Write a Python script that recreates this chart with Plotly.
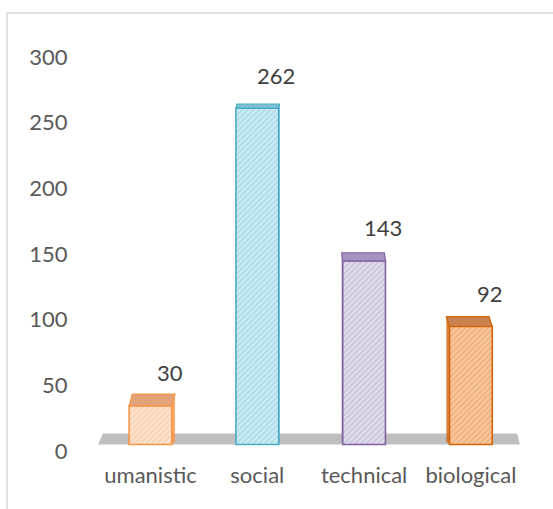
import plotly.graph_objects as go

categories = ["umanistic", "social", "technical", "biological"]
values = [30, 262, 143, 92]
tick_values = [0, 50, 100, 150, 200, 250, 300]
tick_labels = ["0", "50", "100", "150", "200", "250", "300"]

line_colors = ["#F79646", "#4BACC6", "#8064A2", "#D2640C"]
bg_colors = ["#FDE4D0", "#CDEBF3", "#E3DCEC", "#F9C9A0"]
fg_colors = ["#F8B98A", "#88CADC", "#B5A4CA", "#E4904E"]
top_colors = ["#E3A27A", "#7FC0D3", "#A592BE", "#C98150"]

W, H = 553, 509
ML, MR, MT, MB = 80, 13, 40, 49
PX_L, PX_R = ML, W - MR
PY_T, PY_B = MT, H - MB

# x geometry (pixels)
X0_PX, DX_PX = 150.5, 106.8
x_range = [(PX_L - X0_PX) / DX_PX, (PX_R - X0_PX) / DX_PX]
# bar axis: 0 at 444.5 px, 1.284 px per unit
BAR_ZERO, BAR_SCALE = 444.5, 1.284
y2_range = [-(PY_B - BAR_ZERO) / BAR_SCALE, (BAR_ZERO - PY_T) / BAR_SCALE]
# label axis: 0 at 451 px, 1.313 px per unit
LAB_ZERO, LAB_SCALE = 451, 1.313
y_range = [-(PY_B - LAB_ZERO) / LAB_SCALE, (LAB_ZERO - PY_T) / LAB_SCALE]

BAR_W = 0.40
xs = list(range(len(categories)))

fig = go.Figure()

fig.add_trace(go.Scatter(x=[0], y=[0], mode="markers", marker=dict(opacity=0),
                         hoverinfo="skip", showlegend=False, yaxis="y"))

for i, v in enumerate(values):
    fig.add_trace(go.Bar(
        x=[xs[i]], y=[v], width=BAR_W, yaxis="y2",
        marker=dict(
            color=bg_colors[i],
            line=dict(color=line_colors[i], width=1.6),
            pattern=dict(shape="/", fgcolor=fg_colors[i], bgcolor=bg_colors[i],
                         size=4, solidity=0.4),
        ),
        showlegend=False, hoverinfo="skip",
    ))

shapes = []
def xd(px):
    return (px - X0_PX) / DX_PX
floor_d = 11 / BAR_SCALE
shapes.append(dict(type="path", xref="x", yref="y2", layer="below",
                   path=f"M {xd(98)},0 L {xd(520)},0 L {xd(517)},{floor_d} L {xd(103)},{floor_d} Z",
                   fillcolor="#BFBFBF", line=dict(width=0)))

for i, v in enumerate(values):
    cx_px = X0_PX + i * DX_PX
    front_top_px = BAR_ZERO - v * BAR_SCALE
    dx = 0.02 * (310 - cx_px) / DX_PX
    dy = (1.26 + 0.0263 * front_top_px) / BAR_SCALE
    xl, xr = i - BAR_W / 2, i + BAR_W / 2
    sx = xr if dx > 0 else xl
    shapes.append(dict(type="path", xref="x", yref="y2",
                       path=f"M {sx},{v} L {sx+dx},{v+dy} L {sx+dx},{floor_d*0.3} L {sx},0 Z",
                       fillcolor=line_colors[i], opacity=0.8, line=dict(width=0)))
    shapes.append(dict(type="path", xref="x", yref="y2",
                       path=f"M {xl},{v} L {xr},{v} L {xr+dx},{v+dy} L {xl+dx},{v+dy} Z",
                       fillcolor=top_colors[i], line=dict(color=line_colors[i], width=1.2)))

def paper_x(px):
    return (px - PX_L) / (PX_R - PX_L)
def paper_y(py):
    return (PY_B - py) / (PY_B - PY_T)
shapes.append(dict(type="rect", xref="paper", yref="paper",
                   x0=paper_x(7), x1=paper_x(570), y0=paper_y(530), y1=paper_y(13),
                   line=dict(color="#D9D9D9", width=1.5), fillcolor="rgba(0,0,0,0)"))

annotations = []
for i, v in enumerate(values):
    annotations.append(dict(x=i, y=v, xref="x", yref="y2", text=str(v), showarrow=False,
                            xshift=19, yshift=33,
                            font=dict(family="Lato", size=22, color="#404040")))

fig.update_layout(
    width=W, height=H,
    margin=dict(l=ML, r=MR, t=MT, b=MB),
    paper_bgcolor="white", plot_bgcolor="white",
    font=dict(family="Lato", size=22, color="#595959"),
    shapes=shapes, annotations=annotations, barmode="overlay",
    xaxis=dict(range=x_range, tickvals=xs, ticktext=categories, showgrid=False,
               zeroline=False, showline=False, ticks="", fixedrange=True),
    yaxis=dict(range=y_range, tickvals=tick_values, ticktext=tick_labels, showgrid=False,
               zeroline=False, showline=False, ticks="outside", ticklen=0,
               ticklabelstandoff=7),
    yaxis2=dict(range=y2_range, overlaying="y", visible=False),
)

fig.write_html("out.html")
